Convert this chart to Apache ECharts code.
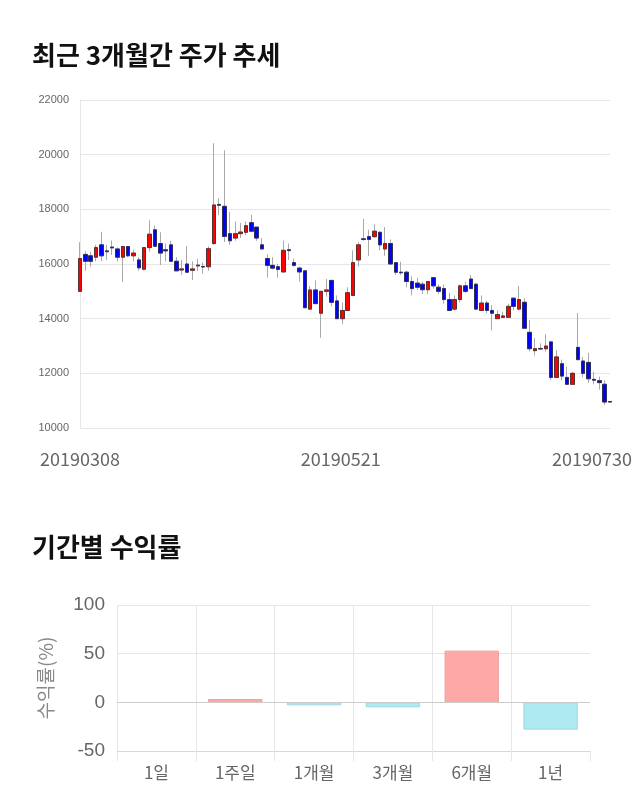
<!DOCTYPE html>
<html>
<head>
<meta charset="utf-8">
<script src="https://cdn.jsdelivr.net/npm/echarts@6/dist/echarts.min.js"></script>
<style>html,body{margin:0;padding:0;background:#fff}#c{width:640px;height:810px}</style>
</head>
<body>
<div id="c"></div>
<script>
// ---- price chart data (trading days 2019-03-08 .. 2019-07-30) ----
const dates = [
'20190308','20190311','20190312','20190313','20190314','20190315','20190318','20190319','20190320','20190321','20190322',
'20190325','20190326','20190327','20190328','20190329',
'20190401','20190402','20190403','20190404','20190405','20190408','20190409','20190410','20190411','20190412',
'20190415','20190416','20190417','20190418','20190419','20190422','20190423','20190424','20190425','20190426','20190429','20190430',
'20190502','20190503','20190507','20190508','20190509','20190510','20190513','20190514','20190515','20190516','20190517',
'20190520','20190521','20190522','20190523','20190524','20190527','20190528','20190529','20190530','20190531',
'20190603','20190604','20190605','20190607','20190610','20190611','20190612','20190613','20190614',
'20190617','20190618','20190619','20190620','20190621','20190624','20190625','20190626','20190627','20190628',
'20190701','20190702','20190703','20190704','20190705','20190708','20190709','20190710','20190711','20190712',
'20190715','20190716','20190717','20190718','20190719','20190722','20190723','20190724','20190725','20190726','20190729','20190730'
];
const openP  = [15000,16350,16300,16250,16700,16480,16620,16550,16250,16640,16300,16150,15810,16600,17250,16750,16520,16700,16100,15780,
16000,15770,15930,15910,15900,16750,18180,18110,17110,16950,17110,17160,17510,17350,16700,16200,15950,15900,15710,16520,
16050,15850,15750,14350,15050,14200,15000,15400,14650,14000,14300,14850,16150,16920,17000,17000,17160,16550,16750,16050,
15700,15700,15360,15300,15260,15060,15500,15150,15100,14700,14350,14700,15200,15450,15260,14300,14570,14300,14000,14050,
14050,14750,14350,14600,13500,12830,12910,12900,13150,11850,12350,11850,11600,12950,12450,12400,11780,11730,11600,10970];
const closeP = [16200,16100,16100,16600,16300,16450,16590,16250,16640,16300,16400,15860,16600,17090,16650,16400,16480,16100,15750,15820,
15700,15820,15960,15890,16560,18160,18150,17010,16850,17110,17170,17400,17200,16950,16550,15950,15850,15800,16500,16490,
15950,15710,14400,15050,14550,15000,15050,14600,14000,14300,14950,16050,16700,16900,16900,17200,16700,16750,16000,15700,
15680,15360,15100,15150,15060,15360,15200,15000,14700,14300,14700,15200,15000,15100,14350,14570,14300,14200,14150,14100,
14450,14450,14700,13650,12900,12900,12890,13000,11850,12600,11900,11600,12000,12500,12000,11800,11750,11660,10950,10950];
const lowP   = [15000,15750,15900,16100,16100,16150,16330,16100,15350,16250,16100,15760,15760,16450,16650,15960,16100,16100,15750,15600,
15700,15410,15750,15650,15750,16700,17790,16800,16700,16850,16950,17050,17160,16850,16550,15500,15800,15500,15710,16150,
15900,15350,14400,14350,14550,13300,14800,14450,14000,13800,14300,14850,15900,16850,16300,16950,16500,16300,16000,15600,
15600,15150,14850,15050,14900,14900,15100,14900,14550,14300,14300,14600,14950,15100,14350,14300,14200,13570,14000,14050,
14050,14300,14300,13650,12800,12650,12850,12800,11750,11850,11750,11600,11600,12500,11850,11650,11600,11400,10850,10930];
const highP  = [16800,16470,16450,16700,17180,16700,16860,16600,16650,16650,16520,16250,16600,17600,17400,17160,16750,16850,16250,16150,
16650,16100,16200,16050,16650,20420,18400,20160,17900,17560,17500,17560,17800,17350,16950,16350,16250,16000,16850,16750,
16200,15900,15750,15200,15400,15000,15450,15400,14850,14600,15150,16500,16800,17650,17250,17450,17200,17350,16900,16050,
16080,15750,15550,15500,15350,15360,15500,15250,15250,14950,14850,15250,15350,15600,15300,14850,14650,14500,14300,14250,
14550,14750,15200,14750,13950,13300,13100,13430,13150,12850,12500,12250,12050,14200,12600,12750,12050,11880,11750,10990];
const priceTicks = {min: 10000, max: 22000, step: 2000};
const shownDateIdx = [0, 50, 99];

// ---- return chart data ----
const periods = ['1일','1주일','1개월','3개월','6개월','1년'];
const returns = [0, 3.4, -3.1, -5.1, 53.1, -28.1];
const retTicks = {min: -50, max: 100, step: 50};

const fullData = dates.map((d,i)=>[openP[i], closeP[i], lowP[i], highP[i]]);
const bodyData = dates.map((d,i)=>[openP[i], closeP[i], Math.min(openP[i],closeP[i]), Math.max(openP[i],closeP[i])]);

const CJK = '"Noto Sans CJK KR", "Noto Sans", sans-serif';
const GRID_C = '#e6e6e6';
const chart = echarts.init(document.getElementById('c'), null, {renderer:'canvas'});
chart.setOption({
  animation: false,
  backgroundColor: '#fff',
  title: [
    {text:'최근 3개월간 주가 추세', left: 27, top: 37, textStyle:{fontFamily:CJK, fontSize:26, fontWeight:'bold', color:'#111'}},
    {text:'기간별 수익률', left: 27, top: 529, textStyle:{fontFamily:CJK, fontSize:26, fontWeight:'bold', color:'#111'}}
  ],
  grid: [
    {left: 80, right: 30, top: 100, height: 328},
    {left: 117, right: 50, top: 605, height: 146}
  ],
  xAxis: [
    {
      type:'category', gridIndex:0, data: dates, boundaryGap:false,
      axisLine:{show:false}, axisTick:{show:false}, splitLine:{show:false},
      axisLabel:{
        interval:(idx)=> shownDateIdx.includes(idx),
        margin: 22, color:'#666', fontFamily:CJK, fontSize:18,
        formatter:(v, idx)=> idx===shownDateIdx[1] ? '{m|'+v+'}' : (idx===shownDateIdx[2] ? '{e|'+v+'}' : '{s|'+v+'}'),
        rich:{
          s:{fontFamily:CJK, fontSize:18, color:'#666'},
          m:{fontFamily:CJK, fontSize:18, color:'#666', padding:[0,14,0,0]},
          e:{fontFamily:CJK, fontSize:18, color:'#666', padding:[0,36,0,0]}
        }
      }
    },
    {
      type:'category', gridIndex:1, data: periods,
      axisLine:{show:true, onZero:false, lineStyle:{color:'#d8d8d8'}},
      axisTick:{show:true, length:10, interval:0, lineStyle:{color:GRID_C}},
      splitLine:{show:true, interval:0, lineStyle:{color:[GRID_C,GRID_C,GRID_C,GRID_C,GRID_C,GRID_C,'rgba(0,0,0,0)']}},
      axisLabel:{margin:13, color:'#666', fontFamily:CJK, fontSize:17}
    }
  ],
  yAxis: [
    {
      type:'value', gridIndex:0, min:priceTicks.min, max:priceTicks.max, interval:priceTicks.step,
      axisLine:{show:true, lineStyle:{color:GRID_C}}, axisTick:{show:false},
      splitLine:{lineStyle:{color:GRID_C}},
      axisLabel:{margin:11, color:'#666', fontFamily:'"Liberation Sans", Arial, sans-serif', fontSize:11,
        formatter:(v)=> String(v)}
    },
    {
      type:'value', gridIndex:1, min:retTicks.min, max:retTicks.max, interval:retTicks.step,
      axisLine:{show:false}, axisTick:{show:false},
      splitLine:{lineStyle:{color:GRID_C}},
      axisLabel:{margin:12, color:'#666', fontFamily:'"Liberation Sans", Arial, sans-serif', fontSize:19},
      name:'수익률(%)', nameLocation:'middle', nameRotate:90, nameGap:62,
      nameTextStyle:{color:'#888', fontFamily:CJK, fontSize:19}
    }
  ],
  series: [
    {
      type:'candlestick', xAxisIndex:0, yAxisIndex:0, data: fullData, barWidth:4,
      itemStyle:{color:'#ff0000', color0:'#0000ff', borderColor:'#aaaaaa', borderColor0:'#aaaaaa', borderWidth:1}
    },
    {
      type:'candlestick', xAxisIndex:0, yAxisIndex:0, data: bodyData, barWidth:4,
      itemStyle:{color:'#ff0000', color0:'#0000ff', borderColor:'#5a3030', borderColor0:'#30305a', borderWidth:1}
    },
    {
      type:'bar', xAxisIndex:1, yAxisIndex:1, barWidth:'69%',
      data: returns.map(v=>({value:v, itemStyle:{color: v>=0 ? '#ffa8a8' : '#aeeaf2', borderColor: v>=0 ? '#eea0a0' : '#a0d8e0', borderWidth: v===0 ? 0 : 1}})),
      markLine:{silent:true, symbol:'none', label:{show:false}, lineStyle:{color:'#cccccc', type:'solid', width:1}, data:[{yAxis:0}]}
    }
  ]
});
</script>
</body>
</html>
